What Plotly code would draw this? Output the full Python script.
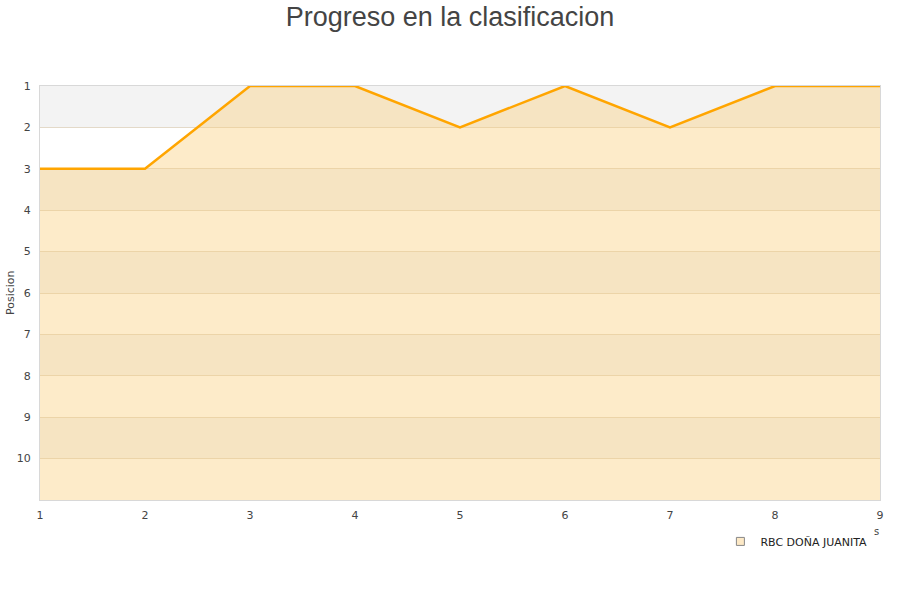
import plotly.graph_objects as go

jornadas = [1, 2, 3, 4, 5, 6, 7, 8, 9]
posiciones = [3, 3, 1, 1, 2, 1, 2, 1, 1]
y_ticks = [1, 2, 3, 4, 5, 6, 7, 8, 9, 10]
team = "RBC DOÑA JUANITA"
title = "Progreso en la clasificacion"
y_title = "Posicion"

fig = go.Figure()

# alternating background bands
for k in range(1, 11, 2):
    fig.add_shape(type="rect", xref="paper", yref="y", x0=0, x1=1, y0=k, y1=k + 1,
                  fillcolor="#f3f3f3", line_width=0, layer="below")

fig.add_trace(go.Scatter(x=jornadas, y=[11] * len(jornadas), mode="lines",
                         line=dict(width=0, color="rgba(0,0,0,0)"),
                         showlegend=False, hoverinfo="skip"))
fig.add_trace(go.Scatter(x=jornadas, y=posiciones, mode="lines", fill="tonexty",
                         fillcolor="rgba(250,205,120,0.4)",
                         line=dict(color="#ffa500", width=2.5),
                         name=team, showlegend=False))
# legend dummy
fig.add_trace(go.Scatter(x=[None], y=[None], mode="markers", name=team,
                         marker=dict(symbol="square", size=8, color="#fde9c6",
                                     line=dict(color="#888", width=1))))

fig.update_layout(
    width=900, height=600,
    paper_bgcolor="white", plot_bgcolor="white",
    margin=dict(l=40, r=20, t=86, b=100),
    title=dict(text=title, x=0.5, xanchor="center", xref="container",
               y=0.988, yref="container", yanchor="top",
               font=dict(family="Liberation Sans", size=27, color="#444")),
    font=dict(family="DejaVu Sans", size=11, color="#444"),
    xaxis=dict(range=[1, 9], tickvals=jornadas, showgrid=False, zeroline=False,
               showline=True, linecolor="#d8d8d8", mirror=True, ticks="",
               ticklabelstandoff=5,
               automargin=False, tickfont=dict(size=11, color="#444")),
    yaxis=dict(range=[11, 1], tickvals=y_ticks, showgrid=True, gridcolor="#e3d9c8",
               gridwidth=1, zeroline=False, showline=True, linecolor="#d8d8d8",
               mirror=True, ticks="", ticklabelstandoff=6, automargin=False,
               tickfont=dict(size=11, color="#444")),
    legend=dict(orientation="h", x=0.81, xanchor="left", y=-0.065, yanchor="top",
                font=dict(size=11, color="#222"), bgcolor="rgba(0,0,0,0)"),
)

fig.add_annotation(text=y_title, xref="paper", yref="paper", x=(10 - 40) / 840, y=0.5,
                   xanchor="center", yanchor="middle", textangle=-90,
                   showarrow=False, font=dict(size=11, color="#444"))
fig.add_annotation(text="s", xref="paper", yref="paper", x=(876 - 40) / 840, y=(500 - 531) / 414,
                   xanchor="center", yanchor="middle",
                   showarrow=False, font=dict(size=10, color="#444"))

fig.write_html("out.html", config={"displayModeBar": False},
               post_script="document.body.style.margin='0';")
